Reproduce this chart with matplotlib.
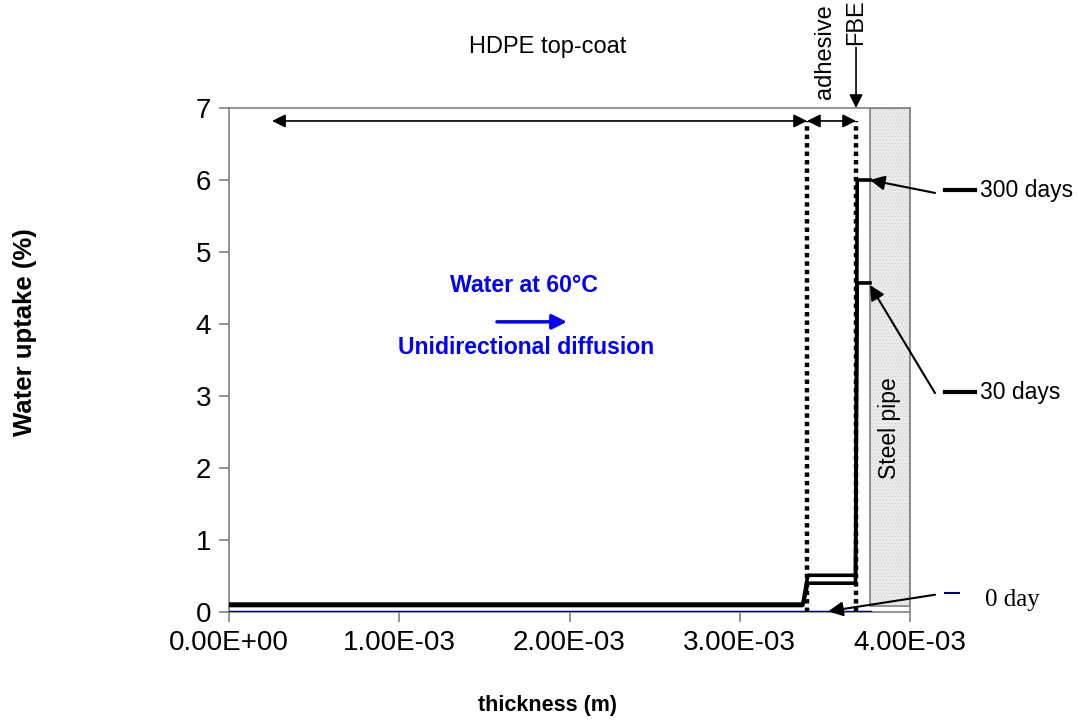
import matplotlib
matplotlib.use("Agg")
import matplotlib.pyplot as plt
from matplotlib.patches import Rectangle

plt.rcParams['font.family'] = ['Liberation Sans', 'DejaVu Sans']

# thickness profile (m) and water uptake (%)
x_300 = [0.0, 3.37e-3, 3.40e-3, 3.68e-3, 3.69e-3, 3.765e-3]
y_300 = [0.11, 0.11, 0.51, 0.51, 6.0, 6.0]
x_30 = [0.0, 3.37e-3, 3.40e-3, 3.68e-3, 3.69e-3, 3.765e-3]
y_30 = [0.09, 0.09, 0.40, 0.40, 4.57, 4.57]
x_0 = [0.0, 3.765e-3]
y_0 = [0.0, 0.0]

# layer boundaries
adhesive_start = 3.395e-3
fbe_start = 3.683e-3
pipe_start = 3.765e-3
pipe_end = 4.0e-3

xticks = [0, 1e-3, 2e-3, 3e-3, 4e-3]
xticklabels = ["0.00E+00", "1.00E-03", "2.00E-03", "3.00E-03", "4.00E-03"]
yticks = [0, 1, 2, 3, 4, 5, 6, 7]

fig = plt.figure(figsize=(10.78, 7.23), dpi=100)
ax = fig.add_axes([229 / 1078, 1 - 612 / 723, 681 / 1078, 504 / 723])
ax.set_xlim(0, 4e-3)
ax.set_ylim(0, 7)

# steel pipe
plt.rcParams['hatch.linewidth'] = 0.6
ax.add_patch(Rectangle((pipe_start, 0.08), pipe_end - pipe_start, 6.92,
                       facecolor='#ebebeb', edgecolor='#d2d2d2', hatch='.....',
                       lw=0, zorder=1))
ax.add_patch(Rectangle((pipe_start, 0.08), pipe_end - pipe_start, 6.92,
                       facecolor='none', edgecolor='#808080', lw=1.2, zorder=2))
ax.text((pipe_start + pipe_end) / 2, 2.55, "Steel pipe", rotation=90,
        ha='center', va='center', fontsize=16.5)

# curves
ax.plot(x_0, y_0, color='#000080', lw=2.5, zorder=3)
ax.plot(x_30, y_30, color='black', lw=2.6, zorder=4)
ax.plot(x_300, y_300, color='black', lw=2.6, zorder=4)

# layer boundaries (dotted)
for xb in [adhesive_start, fbe_start]:
    ax.plot([xb, xb], [0, 6.82], color='black', lw=3.2,
            linestyle=(0, (1.0, 0.9)), zorder=3)

# layer arrows
arr = dict(arrowstyle='<|-|>', color='black', lw=1.2, mutation_scale=20,
           shrinkA=0, shrinkB=0)
ax.annotate("", xy=(0.253e-3, 6.82), xytext=(adhesive_start, 6.82),
            arrowprops=arr, annotation_clip=False)
ax.annotate("", xy=(adhesive_start, 6.82), xytext=(fbe_start, 6.82),
            arrowprops=arr, annotation_clip=False)
ax.annotate("", xy=(fbe_start, 7.0), xytext=(fbe_start, 7.84),
            arrowprops=dict(arrowstyle='-|>', color='black', lw=1.2,
                            mutation_scale=20, shrinkA=0, shrinkB=0),
            annotation_clip=False)

ax.text(1.874e-3, 7.85, "HDPE top-coat", ha='center', va='center',
        fontsize=17, clip_on=False)
ax.text(3.50e-3, 7.12, "adhesive", rotation=90, ha='center', va='bottom',
        fontsize=17, clip_on=False)
ax.text(fbe_start, 7.88, "FBE", rotation=90, ha='center', va='bottom',
        fontsize=17, clip_on=False)

# diffusion note
ax.text(1.733e-3, 4.54, "Water at 60°C", color='#0000ff', fontweight='bold',
        ha='center', va='center', fontsize=16.7)
ax.annotate("", xy=(1.985e-3, 4.03), xytext=(1.574e-3, 4.03),
            arrowprops=dict(arrowstyle='-|>', color='#0000ff', lw=2.5,
                            mutation_scale=22, shrinkA=0, shrinkB=0))
ax.text(1.745e-3, 3.68, "Unidirectional diffusion", color='#0000ff',
        fontweight='bold', ha='center', va='center', fontsize=16.6)

# series labels with pointers
pt = dict(arrowstyle='-|>', color='black', lw=1.5, mutation_scale=22,
          shrinkA=0, shrinkB=0)
ax.annotate("", xy=(3.765e-3, 6.0), xytext=(4.147e-3, 5.82),
            arrowprops=pt, annotation_clip=False)
ax.annotate("", xy=(3.765e-3, 4.54), xytext=(4.147e-3, 3.04),
            arrowprops=pt, annotation_clip=False)
ax.annotate("", xy=(3.52e-3, 0.01), xytext=(4.147e-3, 0.24),
            arrowprops=pt, annotation_clip=False)

ax.plot([4.206e-3, 4.382e-3], [5.86, 5.86], color='black', lw=3, clip_on=False)
ax.text(4.411e-3, 5.86, "300 days", ha='left', va='center', fontsize=16.5,
        clip_on=False)
ax.plot([4.206e-3, 4.382e-3], [3.05, 3.05], color='black', lw=3, clip_on=False)
ax.text(4.411e-3, 3.05, "30 days", ha='left', va='center', fontsize=16.5,
        clip_on=False)
ax.plot([4.206e-3, 4.29e-3], [0.26, 0.26], color='#000080', lw=1.5,
        clip_on=False)
ax.text(4.44e-3, 0.17, "0 day", ha='left', va='center', fontsize=18,
        family='Liberation Serif', clip_on=False)

# axes styling
ax.set_xticks(xticks)
ax.set_xticklabels(xticklabels)
ax.set_yticks(yticks)
ax.tick_params(axis='both', direction='out', length=7, width=1.2,
               color='#808080', labelsize=20, pad=6)
for s in ax.spines.values():
    s.set_color('#808080')
    s.set_linewidth(1.2)

fig.text(25 / 1078, 1 - 332 / 723, "Water uptake (%)", rotation=90,
         ha='center', va='center', fontsize=18.5, fontweight='bold')
fig.text(548 / 1078, 1 - 705 / 723, "thickness (m)", ha='center',
         va='center', fontsize=15.5, fontweight='bold')

fig.savefig("out.png", dpi=100)
